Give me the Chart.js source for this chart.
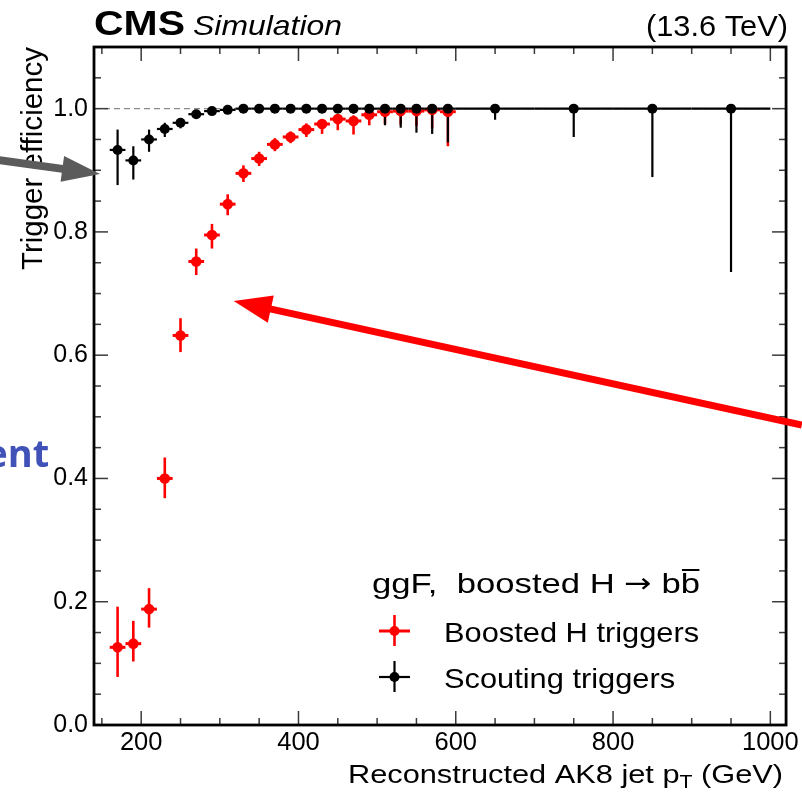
<!DOCTYPE html>
<html><head><meta charset="utf-8">
<script src="https://cdn.jsdelivr.net/npm/chart.js@4.4.0/dist/chart.umd.min.js"></script>
<style>html,body{margin:0;padding:0;background:#fff;overflow:hidden;}</style>
</head><body>
<canvas id="c" width="802" height="793"></canvas>
<script>
// ---------------- data ----------------
const xTickLabels = [200, 400, 600, 800, 1000];
const yTickLabels = [0.0, 0.2, 0.4, 0.6, 0.8, 1.0];

const boostedPt        = [170,190,210,230,250,270,290,310,330,350,370,390,410,430,450,470,490,510,530,550,570,590];
const boostedBinHalf   = [10,10,10,10,10,10,10,10,10,10,10,10,10,10,10,10,10,10,10,10,10,10];
const boostedEff       = [0.126,0.132,0.188,0.400,0.632,0.752,0.795,0.845,0.895,0.919,0.942,0.954,0.966,0.975,0.983,0.980,0.990,0.995,0.996,0.996,0.998,0.995];
const boostedErrLo     = [0.048,0.029,0.030,0.032,0.027,0.022,0.022,0.018,0.014,0.012,0.011,0.010,0.012,0.016,0.018,0.022,0.017,0.020,0.022,0.024,0.030,0.056];
const boostedErrHi     = [0.066,0.037,0.034,0.034,0.028,0.021,0.018,0.016,0.013,0.011,0.010,0.009,0.010,0.008,0.008,0.009,0.007,0.004,0.003,0.003,0.002,0.004];

const scoutPt          = [170,190,210,230,250,270,290,310,330,350,370,390,410,430,450,470,490,510,530,550,570,590,650,750,850,950];
const scoutBinHalf     = [10,10,10,10,10,10,10,10,10,10,10,10,10,10,10,10,10,10,10,10,10,10,50,50,50,50];
const scoutEff         = [0.933,0.916,0.950,0.967,0.977,0.991,0.996,0.998,1,1,1,1,1,1,1,1,1,1,1,1,1,1,1,1,1,1];
const scoutErrLo       = [0.057,0.031,0.020,0.013,0.009,0.005,0.003,0.002,0.001,0.002,0.002,0.003,0.004,0.005,0.006,0.008,0.012,0.027,0.031,0.039,0.041,0.055,0.018,0.046,0.111,0.265];
const scoutErrHi       = [0.033,0.023,0.016,0.010,0.007,0.004,0.002,0.001,0,0,0,0,0,0,0,0,0,0,0,0,0,0,0,0,0,0];

// ---------------- styling / annotations ----------------
const FONT = '"Liberation Sans", Arial, Helvetica, sans-serif';
const RED = '#ff0000', BLACK = '#000000';
const annotations = [
  {from:[-4, 0.9204], to:[147.6, 0.894], color:'#5b5b5b', width:8, headLen:38, headHalf:13},
  {from:[1040, 0.4867], to:[317.6, 0.6879], color:'#ff0000', width:7, headLen:38, headHalf:14}
];
const sideText = {text:'ent', at:[83.0, 0.4186], color:'#4052b8', font:'bold 38px "Open Sans", "Noto Sans", sans-serif'};

function stretchText(ctx, txt, x, y, font, align, opt) {
  ctx.save();
  ctx.font = font; ctx.textAlign = align; ctx.textBaseline = 'alphabetic';
  let sx = 1;
  if (opt && opt.width) sx = opt.width / ctx.measureText(txt).width;
  else if (opt && opt.sx) sx = opt.sx;
  ctx.translate(x, y); ctx.scale(sx, 1); ctx.fillText(txt, 0, 0);
  ctx.restore();
}

function drawErrors(ctx, xs, ys, half, lo, hi, xScale, yScale, color, wH, wV) {
  ctx.strokeStyle = color;
  for (let i = 0; i < xs.length; i++) {
    const px = xScale.getPixelForValue(xs[i]);
    const py = yScale.getPixelForValue(ys[i]);
    ctx.lineWidth = wH;
    ctx.beginPath();
    ctx.moveTo(xScale.getPixelForValue(xs[i] - half[i]), py);
    ctx.lineTo(xScale.getPixelForValue(xs[i] + half[i]), py);
    ctx.stroke();
    ctx.lineWidth = wV;
    ctx.beginPath();
    ctx.moveTo(px, yScale.getPixelForValue(ys[i] - lo[i]));
    ctx.lineTo(px, yScale.getPixelForValue(ys[i] + hi[i]));
    ctx.stroke();
  }
}

function drawArrow(ctx, a, xs, ys) {
  const x0 = xs.getPixelForValue(a.from[0]), y0 = ys.getPixelForValue(a.from[1]);
  const x1 = xs.getPixelForValue(a.to[0]), y1 = ys.getPixelForValue(a.to[1]);
  const dx = x1 - x0, dy = y1 - y0, L = Math.hypot(dx, dy);
  const ux = dx / L, uy = dy / L, nx = -uy, ny = ux;
  const bx = x1 - ux * a.headLen, by = y1 - uy * a.headLen;
  ctx.save();
  ctx.strokeStyle = a.color; ctx.fillStyle = a.color; ctx.lineWidth = a.width; ctx.lineCap = 'butt';
  ctx.beginPath(); ctx.moveTo(x0, y0); ctx.lineTo(bx + ux * 2, by + uy * 2); ctx.stroke();
  ctx.beginPath();
  ctx.moveTo(x1, y1);
  ctx.lineTo(bx + nx * a.headHalf, by + ny * a.headHalf);
  ctx.lineTo(bx - nx * a.headHalf, by - ny * a.headHalf);
  ctx.closePath(); ctx.fill();
  ctx.restore();
}

const cmsPlugin = {
  id: 'cms',
  beforeDatasetsDraw(chart) {
    const ctx = chart.ctx, a = chart.chartArea, xs = chart.scales.x, ys = chart.scales.y;
    ctx.save();
    ctx.beginPath(); ctx.rect(a.left, a.top, a.right - a.left, a.bottom - a.top); ctx.clip();
    ctx.strokeStyle = '#8a8a8a'; ctx.lineWidth = 1.2; ctx.setLineDash([6, 4]);
    ctx.beginPath(); ctx.moveTo(a.left, ys.getPixelForValue(1)); ctx.lineTo(a.right, ys.getPixelForValue(1)); ctx.stroke();
    ctx.setLineDash([]);
    drawErrors(ctx, boostedPt, boostedEff, boostedBinHalf, boostedErrLo, boostedErrHi, xs, ys, RED, 3, 2.6);
    drawErrors(ctx, scoutPt, scoutEff, scoutBinHalf, scoutErrLo, scoutErrHi, xs, ys, BLACK, 2.2, 2.2);
    ctx.restore();
  },
  afterDraw(chart) {
    const ctx = chart.ctx, a = chart.chartArea, xs = chart.scales.x, ys = chart.scales.y;
    ctx.save();
    ctx.strokeStyle = '#3a3a3a'; ctx.lineWidth = 1.5;
    const tick = (x1, y1, x2, y2) => { ctx.beginPath(); ctx.moveTo(x1, y1); ctx.lineTo(x2, y2); ctx.stroke(); };
    for (let v = Math.ceil(xs.min / 50) * 50; v <= xs.max; v += 50) {
      const p = xs.getPixelForValue(v);
      const len = xTickLabels.includes(v) ? 14 : 7;
      tick(p, a.bottom, p, a.bottom - len);
      tick(p, a.top, p, a.top + len);
    }
    for (let k = 0; k * 0.05 <= ys.max + 1e-9; k++) {
      const v = k * 0.05, p = ys.getPixelForValue(v);
      const len = (k % 4 === 0) ? 14 : 7;
      tick(a.left, p, a.left + len, p);
      tick(a.right, p, a.right - len, p);
    }
    ctx.strokeStyle = '#000'; ctx.lineWidth = 2.8;
    ctx.strokeRect(a.left, a.top, a.right - a.left, a.bottom - a.top);
    ctx.restore();

    ctx.save();
    ctx.fillStyle = '#000';
    stretchText(ctx, 'CMS', 94, 35, 'bold 35px ' + FONT, 'left', {width: 91});
    stretchText(ctx, 'Simulation', 193, 35, 'italic 28px ' + FONT, 'left', {width: 149});
    stretchText(ctx, '(13.6 TeV)', 788, 36, '29.5px ' + FONT, 'right', {width: 142});
    ctx.save();
    ctx.translate(41.5, a.top); ctx.rotate(-Math.PI / 2);
    stretchText(ctx, 'Trigger efficiency', 0, 0, '30px ' + FONT, 'right', {width: 223});
    ctx.restore();
    {
      const f1 = '26px ' + FONT, f2 = '18px ' + FONT;
      const p1 = 'Reconstructed AK8 jet p', p2 = 'T', p3 = ' (GeV)';
      ctx.font = f1; const w1 = ctx.measureText(p1).width, w3 = ctx.measureText(p3).width;
      ctx.font = f2; const w2 = ctx.measureText(p2).width;
      const sx = 435 / (w1 + w2 + w3);
      const right = 783, base = 783;
      const left = right - (w1 + w2 + w3) * sx;
      ctx.save(); ctx.translate(left, base); ctx.scale(sx, 1);
      ctx.textAlign = 'left'; ctx.textBaseline = 'alphabetic';
      ctx.font = f1; ctx.fillText(p1, 0, 0);
      ctx.font = f2; ctx.fillText(p2, w1, 5);
      ctx.font = f1; ctx.fillText(p3, w1 + w2, 0);
      ctx.restore();
    }
    {
      // legend header: ggF,  boosted H → b b̄
      const hf = '28.5px ' + FONT, af = '27px "DejaVu Sans", ' + FONT;
      const segs = [
        {t: 'ggF,  boosted H ', f: hf},
        {t: '\u2192', f: af, dy: -1},
        {t: ' b', f: hf},
        {t: 'b', f: hf, bar: true}
      ];
      let tot = 0;
      for (const s of segs) { ctx.font = s.f; s.w = ctx.measureText(s.t).width; tot += s.w; }
      const sx = 328 / tot;
      ctx.save(); ctx.translate(372, 593); ctx.scale(sx, 1);
      ctx.textAlign = 'left'; ctx.textBaseline = 'alphabetic';
      let cx = 0;
      for (const s of segs) {
        ctx.font = s.f; ctx.fillText(s.t, cx, s.dy || 0);
        if (s.bar) {
          ctx.strokeStyle = '#000'; ctx.lineWidth = 2;
          ctx.beginPath(); ctx.moveTo(cx + 1, -23); ctx.lineTo(cx + s.w - 0.5, -23); ctx.stroke();
        }
        cx += s.w;
      }
      ctx.restore();

      const items = [
        {label: 'Boosted H triggers', color: RED, cy: 631, base: 641.7, wH: 3, wV: 2.6},
        {label: 'Scouting triggers', color: BLACK, cy: 677, base: 688, wH: 2.2, wV: 2.2}
      ];
      for (const it of items) {
        ctx.strokeStyle = it.color; ctx.fillStyle = it.color;
        ctx.lineWidth = it.wH; ctx.beginPath(); ctx.moveTo(379, it.cy); ctx.lineTo(410, it.cy); ctx.stroke();
        ctx.lineWidth = it.wV; ctx.beginPath(); ctx.moveTo(394.5, it.cy - 16); ctx.lineTo(394.5, it.cy + 15); ctx.stroke();
        ctx.beginPath(); ctx.arc(394.5, it.cy, 5, 0, Math.PI * 2); ctx.fill();
        ctx.fillStyle = '#000';
        stretchText(ctx, it.label, 444, it.base, '28px ' + FONT, 'left', {sx: 1.1});
      }
    }
    for (const an of annotations) drawArrow(ctx, an, xs, ys);
    ctx.fillStyle = sideText.color;
    ctx.font = sideText.font; ctx.textAlign = 'right'; ctx.textBaseline = 'alphabetic';
    ctx.fillText(sideText.text, xs.getPixelForValue(sideText.at[0]), ys.getPixelForValue(sideText.at[1]));
    ctx.restore();
  }
};

const toPts = (xs, ys) => xs.map((x, i) => ({x: x, y: ys[i]}));

new Chart(document.getElementById('c'), {
  type: 'scatter',
  data: {
    datasets: [
      {label: 'Scouting triggers', data: toPts(scoutPt, scoutEff), backgroundColor: BLACK, borderColor: BLACK,
       pointRadius: 5, pointBorderWidth: 0, pointHoverRadius: 5, order: 0},
      {label: 'Boosted H triggers', data: toPts(boostedPt, boostedEff), backgroundColor: RED, borderColor: RED,
       pointRadius: 5.3, pointBorderWidth: 0, pointHoverRadius: 5, order: 1}
    ]
  },
  options: {
    responsive: false,
    animation: false,
    devicePixelRatio: 1,
    layout: {padding: {left: 0, right: 13, top: 47, bottom: 0}},
    plugins: {legend: {display: false}, tooltip: {enabled: false}, title: {display: false}},
    scales: {
      x: {
        type: 'linear', min: 140, max: 1020,
        grid: {display: false, drawTicks: false}, border: {display: false},
        afterBuildTicks: s => { s.ticks = xTickLabels.map(v => ({value: v})); },
        afterFit: s => { s.height = 68; },
        ticks: {color: '#000', padding: 3, maxRotation: 0, autoSkip: false,
                font: {family: FONT, size: 25.5}, callback: v => String(v)}
      },
      y: {
        type: 'linear', min: 0, max: 1.1,
        grid: {display: false, drawTicks: false}, border: {display: false},
        afterBuildTicks: s => { s.ticks = yTickLabels.map(v => ({value: v})); },
        afterFit: s => { s.width = 94; },
        ticks: {color: '#000', padding: 6, autoSkip: false,
                font: {family: FONT, size: 25}, callback: v => Number(v).toFixed(1)}
      }
    }
  },
  plugins: [cmsPlugin]
});
</script>
</body></html>
